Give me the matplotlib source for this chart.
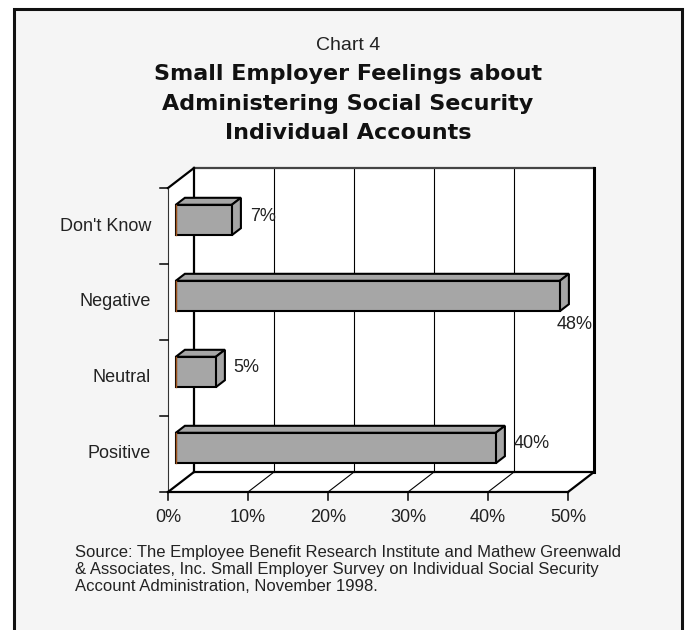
import matplotlib
matplotlib.use("Agg")
import matplotlib.pyplot as plt
from matplotlib.patches import Polygon, Rectangle

# survey answers, bottom to top
categories = ["Positive", "Neutral", "Negative", "Don't Know"]
values = [40, 5, 48, 7]
value_labels = ["40%", "5%", "48%", "7%"]
xticks = [0, 10, 20, 30, 40, 50]
xtick_labels = ["0%", "10%", "20%", "30%", "40%", "50%"]

chart_no = "Chart 4"
title_lines = ["Small Employer Feelings about",
               "Administering Social Security",
               "Individual Accounts"]
source = ("Source: The Employee Benefit Research Institute and Mathew Greenwald\n"
          "& Associates, Inc. Small Employer Survey on Individual Social Security\n"
          "Account Administration, November 1998.")

W, H = 687, 630
NARROW = ["Liberation Sans Narrow", "Liberation Sans", "DejaVu Sans"]
BAR_GRAY = "#a6a6a6"
PANEL = "#f5f5f5"


def main():
    fig = plt.figure(figsize=(W / 100, H / 100), dpi=100, facecolor="white")

    # outer frame, kept behind the axes
    frame = Rectangle((14 / W, -0.05), (682 - 14) / W, 1.05 - 9 / H,
                      transform=fig.transFigure, facecolor=PANEL,
                      edgecolor="#111111", linewidth=2.2, zorder=-10)
    fig.patches.append(frame)

    # front plane of the chart: 0..50 % and four category slots
    left, right, top, bottom = 168, 568, 188, 492
    ax = fig.add_axes([left / W, (H - bottom) / H, (right - left) / W, (bottom - top) / H])
    ax.set_xlim(0, 50)
    ax.set_ylim(0, len(categories))
    ax.axis("off")

    # depth offset in data units (26 px right, 20 px up)
    DX = 26 * 50 / (right - left)
    DY = 20 * len(categories) / (bottom - top)
    px_y = len(categories) / (bottom - top)

    def proj(x, y, d):
        return (x + d * DX, y + d * DY)

    ny = len(categories)
    xmax = xticks[-1]
    lw_thick = 1.6
    lw_thin = 0.8

    # back wall, left wall, floor
    back = [proj(0, 0, 1), proj(xmax, 0, 1), proj(xmax, ny, 1), proj(0, ny, 1)]
    side = [proj(0, 0, 0), proj(0, 0, 1), proj(0, ny, 1), proj(0, ny, 0)]
    floor = [proj(0, 0, 0), proj(xmax, 0, 0), proj(xmax, 0, 1), proj(0, 0, 1)]
    for poly in (back, side, floor):
        ax.add_patch(Polygon(poly, closed=True, facecolor="white", edgecolor="none",
                             clip_on=False, zorder=1))

    def seg(p, q, lw, color="black", z=2):
        ax.plot([p[0], q[0]], [p[1], q[1]], color=color, lw=lw, clip_on=False,
                zorder=z, solid_capstyle="projecting")

    # gridlines on back wall and floor
    for x in xticks[1:-1]:
        seg(proj(x, 0, 1), proj(x, ny, 1), lw_thin)
        seg(proj(x, 0, 0), proj(x, 0, 1), lw_thin)

    # wall outlines
    seg(proj(0, 0, 1), proj(0, ny, 1), lw_thick)
    seg(proj(0, ny, 1), proj(xmax, ny, 1), lw_thick, color="#444444")
    seg(proj(xmax, 0, 1), proj(xmax, ny, 1), 2.2)
    seg(proj(0, ny, 0), proj(0, ny, 1), lw_thick)
    seg(proj(0, 0, 0), proj(0, ny, 0), lw_thin, color="#333333")
    seg(proj(0, 0, 1), proj(xmax, 0, 1), lw_thick)
    seg(proj(0, 0, 0), proj(0, 0, 1), lw_thick)
    seg(proj(xmax, 0, 0), proj(xmax, 0, 1), lw_thick)
    seg(proj(0, 0, 0), proj(xmax, 0, 0), lw_thick)

    # tick marks
    tick_x = 8 * 50 / (right - left)
    tick_y = 8 * px_y
    for x in xticks:
        seg(proj(x, 0, 0), proj(x, -tick_y, 0), lw_thin + 0.3)
    for k in range(ny + 1):
        seg(proj(0, k, 0), proj(-tick_x, k, 0), lw_thin + 0.3)

    # tick labels
    for x, lab in zip(xticks, xtick_labels):
        ax.text(x, -0.33, lab, ha="center", va="center", fontsize=13,
                family=NARROW, color="#222222")
    for i, cat in enumerate(categories):
        ax.text(-2.1, i + 0.5, cat, ha="right", va="center", fontsize=13,
                family=NARROW, color="#222222")

    # 3D bars
    h = 0.2
    d0, d1 = 0.3, 0.65
    for i, (v, lab) in enumerate(zip(values, value_labels)):
        c = i + 0.5
        front = [proj(0, c - h, d0), proj(v, c - h, d0), proj(v, c + h, d0), proj(0, c + h, d0)]
        topf = [proj(0, c + h, d0), proj(v, c + h, d0), proj(v, c + h, d1), proj(0, c + h, d1)]
        sidef = [proj(v, c - h, d0), proj(v, c - h, d1), proj(v, c + h, d1), proj(v, c + h, d0)]
        for poly in (topf, sidef, front):
            ax.add_patch(Polygon(poly, closed=True, facecolor=BAR_GRAY, edgecolor="black",
                                 linewidth=1.5, joinstyle="miter", clip_on=False, zorder=5))
        seg(proj(0, c - h, d0), proj(0, c + h, d0), 1.0, color="#a0521a", z=6)

        if lab == "48%":
            # no room on the right, so the label sits under the bar end
            x, y = proj(v, c - h, d0)
            ax.text(x + 1.9, y - 5 * px_y, lab, ha="center", va="top", fontsize=13,
                    family=NARROW, color="#222222")
        else:
            x, y = proj(v, c, d1)
            xf, yf = proj(v, c, d0)
            ax.text(x + 1.1, yf + 4 * px_y, lab, ha="left", va="center", fontsize=13,
                    family=NARROW, color="#222222")

    # titles
    cx = (14 + 682) / 2 / W
    fig.text(cx, 1 - 45 / H, chart_no, ha="center", va="center", fontsize=14,
             family=NARROW, color="#222222")
    for k, line in enumerate(title_lines):
        fig.text(cx, 1 - (74 + 29.5 * k) / H, line, ha="center", va="center",
                 fontsize=16, fontweight="bold", family="DejaVu Sans", color="#111111")

    fig.text(75 / W, 1 - 545 / H, source, ha="left", va="top", fontsize=12,
             family=NARROW, color="#222222", linespacing=1.15)

    fig.savefig("out.png", dpi=100, facecolor="white")
    plt.close(fig)


if __name__ == "__main__":
    main()
